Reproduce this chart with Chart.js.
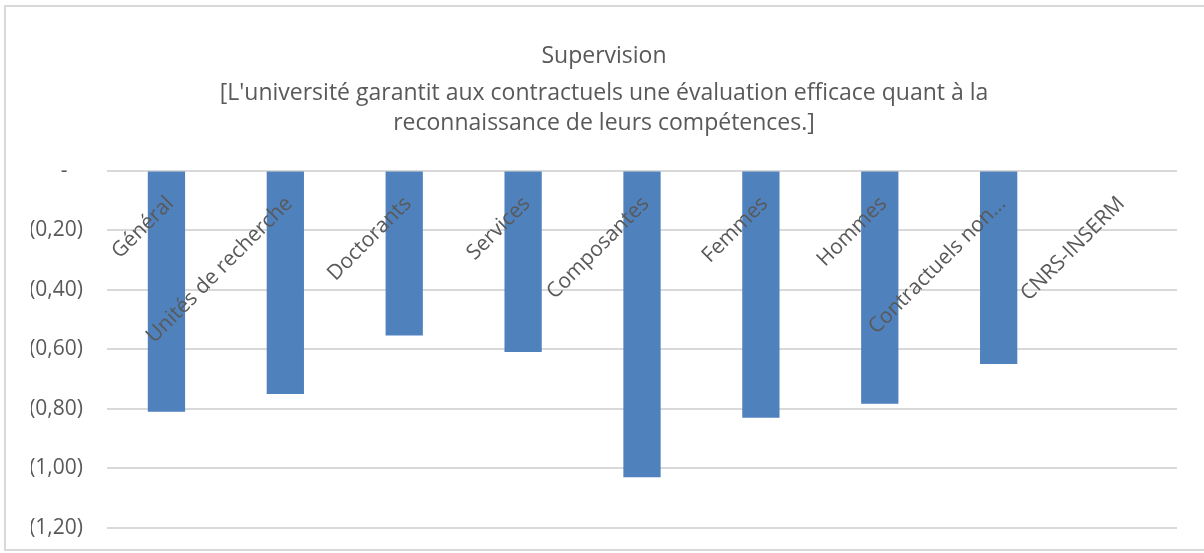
<!DOCTYPE html>
<html lang="fr">
<head>
<meta charset="utf-8">
<title>Supervision</title>
<script src="https://cdn.jsdelivr.net/npm/chart.js@4.4.1/dist/chart.umd.min.js"></script>
<style>
  html, body { margin: 0; padding: 0; background: #fff; }
  #wrap { position: relative; width: 1204px; height: 553px; overflow: hidden; }
  #chart { position: absolute; left: 0; top: 0; }
  #frame {
    position: absolute; left: 4px; top: 5px; width: 1202px; height: 546px;
    border: 2px solid #d9d9d9; box-sizing: border-box; pointer-events: none;
  }
</style>
</head>
<body>
<div id="wrap">
  <canvas id="chart" width="1204" height="553"></canvas>
  <div id="frame"></div>
</div>
<script>
// Data
const categories = [
  'Général', 'Unités de recherche', 'Doctorants', 'Services', 'Composantes',
  'Femmes', 'Hommes', 'Contractuels non…', 'CNRS-INSERM'
];
const scores = [-0.81, -0.75, -0.554, -0.609, -1.03, -0.83, -0.783, -0.649, null];

const titleText = 'Supervision';
const subtitleLines = [
  "[L'université garantit aux contractuels une évaluation efficace quant à la",
  'reconnaissance de leurs compétences.]'
];

const yMin = -1.2;
const yMax = 0;
const yStep = 0.2;

const textColor = '#595959';
const gridColor = '#d9d9d9';
const fontFamily = '"Open Sans", "Liberation Sans", sans-serif';

// accounting style: zero as "-", negatives in brackets with comma decimals
function formatTick(v) {
  if (Math.abs(v) < 1e-9) return '-\u2007\u2009';
  const s = Math.abs(v).toFixed(2).replace('.', ',');
  return v < 0 ? '(' + s + ')' : s;
}

// category labels sit under the zero line, rotated, over the bars
const categoryLabels = {
  id: 'categoryLabels',
  afterDatasetsDraw(chart) {
    const { ctx, scales: { x, y } } = chart;
    const y0 = y.getPixelForValue(0);
    ctx.save();
    ctx.font = '21px ' + fontFamily;
    ctx.fillStyle = textColor;
    ctx.textAlign = 'right';
    ctx.textBaseline = 'alphabetic';
    categories.forEach((label, i) => {
      const cx = x.getPixelForValue(i);
      ctx.save();
      ctx.translate(cx + 8, y0 + 34);
      ctx.rotate(-Math.PI / 4);
      ctx.fillText(label, 0, 0);
      ctx.restore();
    });
    ctx.restore();
  }
};

const ctx = document.getElementById('chart').getContext('2d');

new Chart(ctx, {
  type: 'bar',
  data: {
    labels: categories,
    datasets: [{
      label: titleText,
      data: scores,
      backgroundColor: '#4f81bd',
      borderWidth: 0,
      barPercentage: 1,
      categoryPercentage: 0.3135
    }]
  },
  options: {
    responsive: false,
    animation: false,
    layout: { padding: { left: 31, right: 27, top: 0, bottom: 25 } },
    scales: {
      x: {
        display: false
      },
      y: {
        min: yMin,
        max: yMax,
        ticks: {
          stepSize: yStep,
          padding: 24,
          color: textColor,
          font: { family: fontFamily, size: 21 },
          callback: (v) => formatTick(v)
        },
        grid: { color: gridColor, lineWidth: 2, drawTicks: false },
        border: { display: false },
        afterFit: (scale) => {
          scale.width = 76;
          scale.paddingTop = 0;
          scale.paddingBottom = 0;
        }
      }
    },
    plugins: {
      legend: { display: false },
      tooltip: { enabled: false },
      title: {
        display: true,
        text: titleText,
        color: textColor,
        font: { family: fontFamily, size: 23, weight: 'normal', lineHeight: 1.2 },
        padding: { top: 43, bottom: 0 }
      },
      subtitle: {
        display: true,
        text: subtitleLines,
        color: textColor,
        font: { family: fontFamily, size: 23, weight: 'normal', lineHeight: 1.304 },
        padding: { top: 8, bottom: 32 }
      }
    }
  },
  plugins: [categoryLabels]
});
</script>
</body>
</html>
